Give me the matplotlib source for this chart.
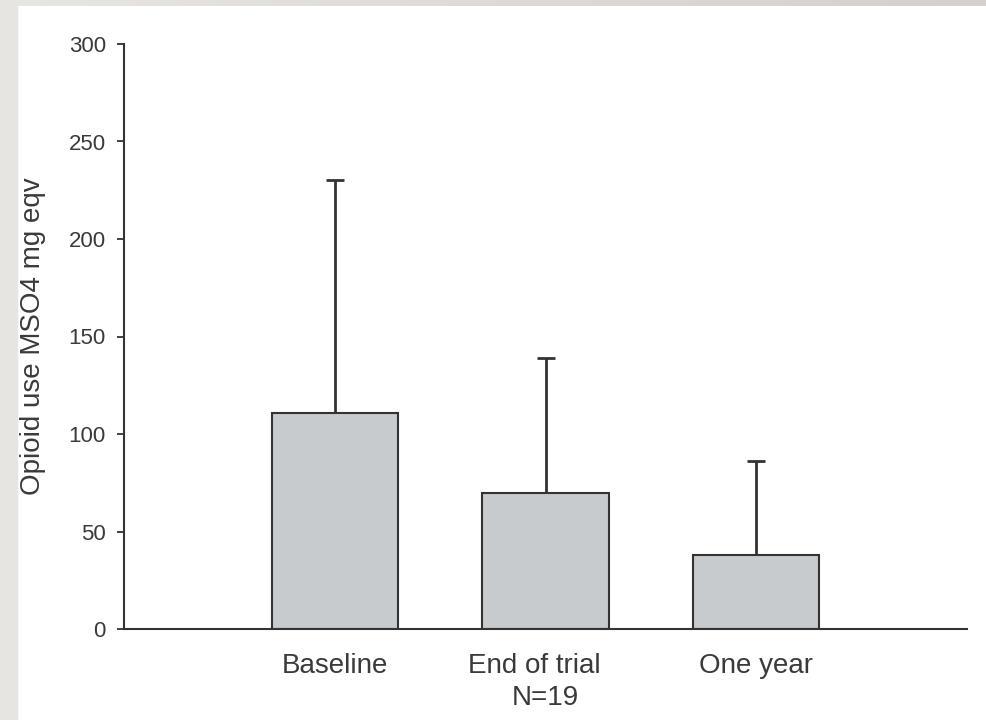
import matplotlib
matplotlib.use("Agg")
import matplotlib.pyplot as plt
from matplotlib.patches import Rectangle
from matplotlib.transforms import ScaledTranslation
import numpy as np

## data ##

groups = ["Baseline", "End of trial", "One year"]
mean_dose = [111, 70, 38]      # mean opioid use, MSO4 mg equivalents
sd_upper = [119, 69, 48]       # one-sided error bar above each mean
n_note = "N=19"
yticks = [0, 50, 100, 150, 200, 250, 300]

## style ##

plt.rcParams["font.family"] = ["Liberation Sans", "DejaVu Sans"]
ink = "#333333"
bar_fill = "#c8cbce"

fig = plt.figure(figsize=(9.86, 7.2), dpi=100)
fig.patch.set_facecolor("white")

# light grey frame along the top and left edges
fig.patches.append(Rectangle((0, 0), 17 / 986, 1, transform=fig.transFigure,
                             color="#e7e5e1", zorder=0))
strip = fig.add_axes([0, 1 - 6 / 720, 1, 6 / 720])
strip.imshow(np.linspace(0, 1, 256)[None, :], aspect="auto", cmap=matplotlib.colors.LinearSegmentedColormap.from_list("g", ["#e8e6e2", "#d4d0ca"]))
strip.axis("off")

ax = fig.add_axes([124 / 986, 1 - 629 / 720, (967 - 124) / 986, (629 - 44) / 720])

x = np.arange(len(groups))
ax.bar(x, mean_dose, width=0.6, color=bar_fill, edgecolor=ink, linewidth=1.5, zorder=2)
ax.errorbar(x, mean_dose, yerr=[np.zeros(len(x)), sd_upper], fmt="none",
            ecolor=ink, elinewidth=2, capsize=6.5, capthick=2, zorder=1)

ax.set_xlim(-1, 3)
ax.set_ylim(0, 300)
ax.set_yticks(yticks)
ax.set_xticks(x)
ax.set_xticklabels(groups)

for side in ["top", "right"]:
    ax.spines[side].set_visible(False)
for side in ["left", "bottom"]:
    ax.spines[side].set_color(ink)
    ax.spines[side].set_linewidth(1.5)

ax.tick_params(axis="y", direction="out", length=5, width=1.3, color=ink,
               labelsize=16, labelcolor="#3a3a3a", pad=8)
ax.tick_params(axis="x", length=0, labelsize=20, labelcolor="#3a3a3a", pad=17)

# the middle label sits slightly left of its bar, with the N underneath
mid = ax.get_xticklabels()[1]
mid.set_transform(mid.get_transform() + ScaledTranslation(-11 / 100, 0, fig.dpi_scale_trans))
ax.annotate(n_note, xy=(x[1], 0), xycoords=("data", "axes fraction"),
            xytext=(0, -40), textcoords="offset points",
            ha="center", va="top", fontsize=20, color="#3a3a3a")

ax.set_ylabel("Opioid use MSO4 mg eqv", fontsize=20, color="#3a3a3a", labelpad=16)

plt.savefig("out.png", dpi=100)
